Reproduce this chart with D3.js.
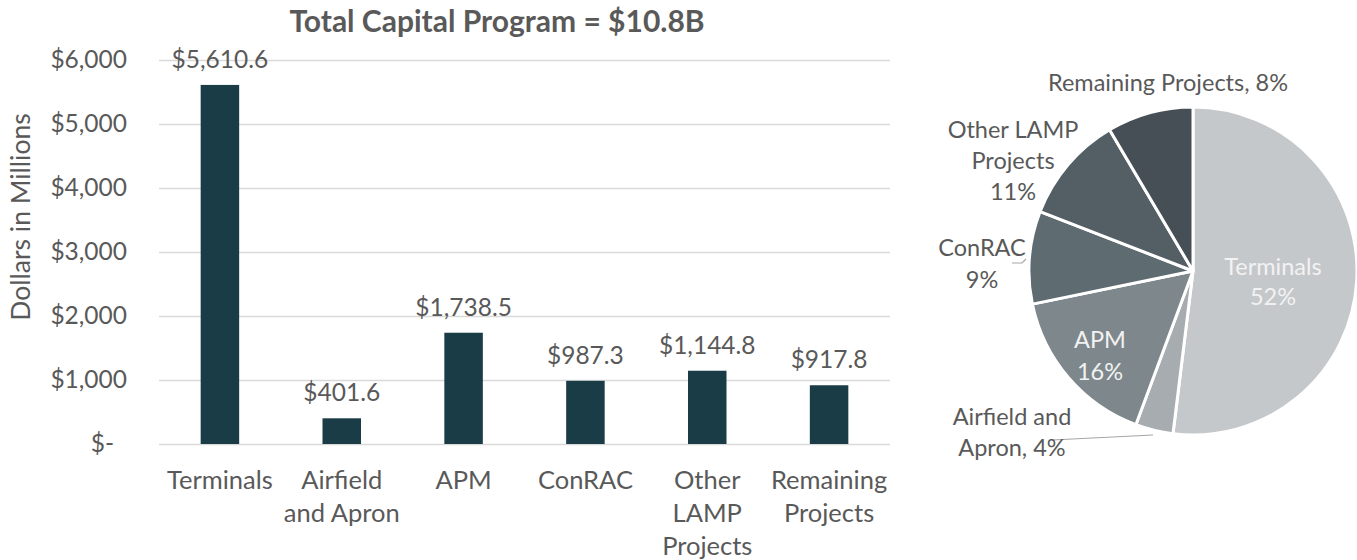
<!DOCTYPE html>
<html><head><meta charset="utf-8">
<script src="https://cdn.jsdelivr.net/npm/d3@7"></script>
<style>
body{margin:0;background:#fff;}
svg text{font-family:Lato,"Open Sans",sans-serif;}
</style></head>
<body><svg id="c" width="1357" height="560"></svg>
<script>
const categories = ["Terminals","Airfield and Apron","APM","ConRAC","Other LAMP Projects","Remaining Projects"];
const categoryLines = [["Terminals"],["Airfield","and Apron"],["APM"],["ConRAC"],["Other","LAMP","Projects"],["Remaining","Projects"]];
const values = [5610.6, 401.6, 1738.5, 987.3, 1144.8, 917.8];
const yTicks = [0,1000,2000,3000,4000,5000,6000];
const pieLabels = [["Terminals","52%"],["Airfield and","Apron, 4%"],["APM","16%"],["ConRAC","9%"],["Other LAMP","Projects","11%"],["Remaining Projects, 8%"]];
const pieColors = ["#c5c8cb","#a6acaf","#7e888c","#5e6b70","#535f64","#464f55"];
const titleText = "Total Capital Program = $10.8B";
const yTitle = "Dollars in Millions";

const svg = d3.select("#c");
const textColor = "#595959";

// Bar chart
const x = d3.scaleBand().domain(categories).range([159, 890]).paddingInner(0.684).paddingOuter(0.342);
const y = d3.scaleLinear().domain([0,6000]).range([444, 60]);

const fmtTick = v => v === 0 ? "$-" : "$" + d3.format(",")(v);
const yAxis = d3.axisLeft(y).tickValues(yTicks).tickFormat(fmtTick).tickSize(-(890-159)).tickPadding(32);
const gy = svg.append("g").attr("transform","translate(159,0)").call(yAxis);
gy.select(".domain").remove();
gy.selectAll(".tick line").attr("stroke","#d9d9d9").attr("stroke-width",1.3);
gy.selectAll(".tick text").attr("fill",textColor).attr("font-size",24.5).style("font-family","Lato")
  .attr("dx", d => d === 0 ? -13 : 0);

svg.append("g").selectAll("rect").data(values).join("rect")
  .attr("x",(d,i)=>x(categories[i])).attr("width",x.bandwidth())
  .attr("y",d=>y(d)).attr("height",d=>y(0)-y(d)).attr("fill","#1a3c47");

svg.append("g").selectAll("text").data(values).join("text")
  .attr("x",(d,i)=>x(categories[i])+x.bandwidth()/2).attr("y",d=>y(d)-17)
  .attr("text-anchor","middle").attr("fill",textColor).attr("font-size",24.5)
  .text(d=>"$"+d3.format(",.1f")(d));

const xl = svg.append("g").selectAll("text").data(categoryLines).join("text")
  .attr("x",(d,i)=>x(categories[i])+x.bandwidth()/2).attr("y",489)
  .attr("text-anchor","middle").attr("fill",textColor).attr("font-size",25.5);
xl.selectAll("tspan").data(d=>d).join("tspan")
  .attr("x",function(){return this.parentNode.getAttribute("x");})
  .attr("dy",(d,i)=>i===0?0:33).text(d=>d);

svg.append("text").attr("x",497).attr("y",32).attr("text-anchor","middle")
  .attr("font-weight","bold").attr("font-size",30).attr("fill",textColor).text(titleText);

svg.append("text").attr("transform","translate(30,217) rotate(-90)").attr("text-anchor","middle")
  .attr("fill",textColor).attr("font-size",26.5).text(yTitle);

// Pie chart
const cx = 1193, cy = 271, r = 164;
const pie = d3.pie().sort(null).value(d=>d)(values);
const arc = d3.arc().innerRadius(0).outerRadius(r);
const pg = svg.append("g").attr("transform",`translate(${cx},${cy})`);
pg.selectAll("path").data(pie).join("path").attr("d",arc)
  .attr("fill",(d,i)=>pieColors[i]).attr("stroke","#fff").attr("stroke-width",3).attr("stroke-linejoin","round");

// label positions relative to pie centre
const labelPos = [[80,4],[-181,154],[-93,77],[-211,-15],[-180,-133],[-25,-180]];
const labelFill = ["#f2f2f2",textColor,"#f2f2f2",textColor,textColor,textColor];
const lineStep = [30,31,32,32,31,0];

// leader lines
pg.append("polyline").attr("points",[[-40,164],[-141,169]].map(p=>p.join(",")).join(" "))
  .attr("fill","none").attr("stroke","#a6a6a6").attr("stroke-width",1.2);
pg.append("polyline").attr("points",[[-167,-12],[-171,-8],[-181,-8]].map(p=>p.join(",")).join(" "))
  .attr("fill","none").attr("stroke","#a6a6a6").attr("stroke-width",1.2);

const pl = pg.selectAll("text.pl").data(pieLabels).join("text").attr("class","pl")
  .attr("x",(d,i)=>labelPos[i][0]).attr("y",(d,i)=>labelPos[i][1])
  .attr("text-anchor","middle").attr("fill",(d,i)=>labelFill[i]).attr("font-size",23.5);
pl.selectAll("tspan").data((d,i)=>d.map(t=>({t,i}))).join("tspan")
  .attr("x",function(){return this.parentNode.getAttribute("x");})
  .attr("dy",(d,j)=>j===0?0:lineStep[d.i]).text(d=>d.t);
</script></body></html>
